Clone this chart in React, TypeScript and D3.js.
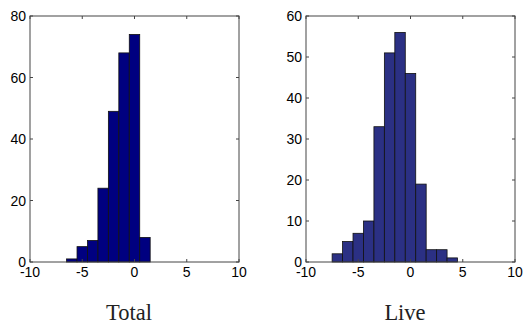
import React, { useEffect, useRef } from 'react';
import * as d3 from 'd3';

// bin centres and counts
const totalBins = [-6, -5, -4, -3, -2, -1, 0, 1];
const totalCounts = [1, 5, 7, 24, 49, 68, 74, 8];
const liveBins = [-7, -6, -5, -4, -3, -2, -1, 0, 1, 2, 3, 4];
const liveCounts = [2, 5, 7, 10, 33, 51, 56, 46, 19, 3, 3, 1];

const xTicks = [-10, -5, 0, 5, 10];
const totalYTicks = [0, 20, 40, 60, 80];
const liveYTicks = [0, 10, 20, 30, 40, 50, 60];

const panels = [
  { title: 'Total', bins: totalBins, counts: totalCounts, yMax: 80, yTicks: totalYTicks, left: 30, fill: '#000080' },
  { title: 'Live', bins: liveBins, counts: liveCounts, yMax: 60, yTicks: liveYTicks, left: 306, fill: '#2b3084' },
];

const App = () => {
  const svgRef = useRef(null);

  useEffect(() => {
    const svg = d3.select(svgRef.current);
    svg.selectAll('*').remove();

    const top = 16;
    const bottom = 262;
    const w = 209;
    const tick = 3;
    const sans = 'Liberation Sans, Arial, sans-serif';

    panels.forEach(p => {
      const x = d3.scaleLinear().domain([-10, 10]).range([p.left, p.left + w]);
      const y = d3.scaleLinear().domain([0, p.yMax]).range([bottom, top]);
      const g = svg.append('g');

      g.selectAll('rect.bar')
        .data(p.bins)
        .enter()
        .append('rect')
        .attr('class', 'bar')
        .attr('x', d => x(d - 0.5))
        .attr('width', d => x(d + 0.5) - x(d - 0.5))
        .attr('y', (d, i) => y(p.counts[i]))
        .attr('height', (d, i) => bottom - y(p.counts[i]))
        .attr('fill', p.fill)
        .attr('stroke', '#111')
        .attr('stroke-width', 0.8);

      // box
      g.append('rect')
        .attr('x', p.left)
        .attr('y', top)
        .attr('width', w)
        .attr('height', bottom - top)
        .attr('fill', 'none')
        .attr('stroke', '#444')
        .attr('stroke-width', 1);

      // inside ticks, all four sides
      xTicks.forEach(t => {
        g.append('line').attr('x1', x(t)).attr('x2', x(t)).attr('y1', bottom).attr('y2', bottom - tick).attr('stroke', '#444');
        g.append('line').attr('x1', x(t)).attr('x2', x(t)).attr('y1', top).attr('y2', top + tick).attr('stroke', '#444');
        g.append('text')
          .attr('x', x(t))
          .attr('y', bottom + 15)
          .attr('text-anchor', 'middle')
          .attr('font-family', sans)
          .attr('font-size', 14)
          .attr('fill', '#000')
          .text(t);
      });
      p.yTicks.forEach(t => {
        g.append('line').attr('x1', p.left).attr('x2', p.left + tick).attr('y1', y(t)).attr('y2', y(t)).attr('stroke', '#444');
        g.append('line').attr('x1', p.left + w).attr('x2', p.left + w - tick).attr('y1', y(t)).attr('y2', y(t)).attr('stroke', '#444');
        g.append('text')
          .attr('x', p.left - 4)
          .attr('y', y(t) + 5)
          .attr('text-anchor', 'end')
          .attr('font-family', sans)
          .attr('font-size', 14)
          .attr('fill', '#000')
          .text(t);
      });

      g.append('text')
        .attr('x', p.left + w / 2 - 5.5)
        .attr('y', 320)
        .attr('text-anchor', 'middle')
        .attr('font-family', 'Liberation Serif, Times New Roman, serif')
        .attr('font-size', 22.5)
        .attr('fill', '#222')
        .text(p.title);
    });
  }, []);

  return (
    <svg
      ref={svgRef}
      width={523}
      height={324}
      style={{ position: 'absolute', left: 0, top: 0, background: '#fff' }}
    />
  );
};

export default App;
